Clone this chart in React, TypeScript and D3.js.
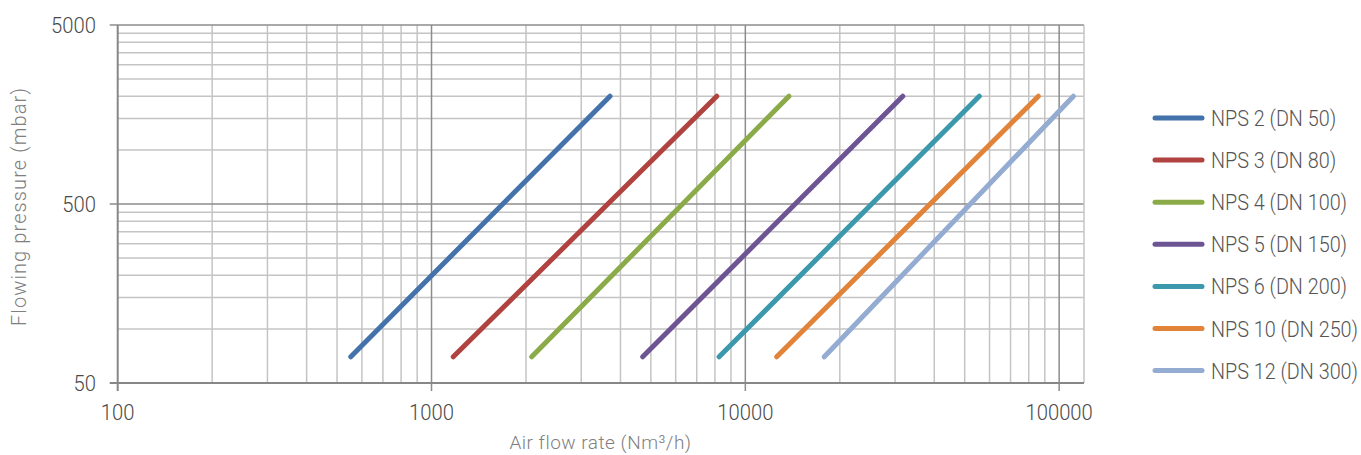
import React from 'react';
import * as d3 from 'd3';

const seriesNames = [
  'NPS 2 (DN 50)',
  'NPS 3 (DN 80)',
  'NPS 4 (DN 100)',
  'NPS 5 (DN 150)',
  'NPS 6 (DN 200)',
  'NPS 10 (DN 250)',
  'NPS 12 (DN 300)',
];
const colors = ['#4472aa', '#b0433f', '#8aab48', '#6d5493', '#3c99ad', '#e2833a', '#94abd2'];

// flow rate (Nm3/h) at low and high pressure end
const flowLow = [553, 1173, 2086, 4710, 8250, 12590, 17850];
const flowHigh = [3705, 8110, 13770, 31750, 55660, 85850, 111000];
const pressure = [70, 2000];

const xTicks = [100, 1000, 10000, 100000];
const yTicks = [50, 500, 5000];

const W = 1361;
const H = 455;
const m = { left: 117.7, top: 25, right: 1084, bottom: 383 };

export default function App() {
  const x = d3.scaleLog().domain([100, 120000]).range([m.left, m.right]);
  const y = d3.scaleLog().domain([50, 5000]).range([m.bottom, m.top]);

  const xMinor: number[] = [];
  [100, 1000, 10000].forEach(b => {
    for (let k = 2; k <= 9; k++) xMinor.push(b * k);
  });
  const yMinor: number[] = [];
  [50, 500].forEach(b => {
    for (let k = 2; k <= 9; k++) yMinor.push(b * k);
  });

  const line = d3
    .line<[number, number]>()
    .x(d => x(d[0]))
    .y(d => y(d[1]));

  const font = 'Roboto, "DejaVu Sans", sans-serif';

  return (
    <svg width={W} height={H} style={{ position: 'absolute', left: 0, top: 0 }} fontFamily={font}>
      <rect width={W} height={H} fill="#fff" />
      {/* minor grid */}
      {xMinor.map(v => (
        <line key={'xm' + v} x1={x(v)} x2={x(v)} y1={m.top} y2={m.bottom} stroke="#c4c4c4" strokeWidth={1.5} />
      ))}
      {yMinor.map(v => (
        <line key={'ym' + v} x1={m.left} x2={m.right} y1={y(v)} y2={y(v)} stroke="#c4c4c4" strokeWidth={1.5} />
      ))}
      {/* major grid */}
      {xTicks.slice(1).map(v => (
        <line key={'xM' + v} x1={x(v)} x2={x(v)} y1={m.top} y2={m.bottom + 8} stroke="#8c8c8c" strokeWidth={1.5} />
      ))}
      {yTicks.slice(1).map(v => (
        <line key={'yM' + v} x1={m.left - 8} x2={m.right} y1={y(v)} y2={y(v)} stroke="#8c8c8c" strokeWidth={1.5} />
      ))}
      <line x1={m.right} x2={m.right} y1={m.top} y2={m.bottom} stroke="#c4c4c4" strokeWidth={1.5} />
      {/* axes */}
      <line x1={m.left} x2={m.left} y1={m.top} y2={m.bottom + 8} stroke="#878787" strokeWidth={2} />
      <line x1={m.left - 8} x2={m.right} y1={m.bottom} y2={m.bottom} stroke="#878787" strokeWidth={2} />
      {/* tick labels */}
      {xTicks.map(v => (
        <text
          key={'xt' + v}
          transform={`translate(${x(v)},420) scale(0.92,1)`}
          textAnchor="middle"
          fontSize={22}
          fontWeight={300}
          fill="#4a4a4a"
        >
          {v}
        </text>
      ))}
      {yTicks.map(v => (
        <text
          key={'yt' + v}
          transform={`translate(96,${y(v) + 7.8}) scale(0.92,1)`}
          textAnchor="end"
          fontSize={22}
          fontWeight={300}
          fill="#4a4a4a"
        >
          {v}
        </text>
      ))}
      <text x={600.5} y={449} textAnchor="middle" fontSize={19} fontWeight={300} letterSpacing={0.5} fill="#808080">
        Air flow rate (Nm³/h)
      </text>
      <text
        transform={`translate(26,206.5) rotate(-90)`}
        textAnchor="middle"
        fontSize={20}
        fontWeight={300}
        letterSpacing={1.1}
        fill="#808080"
      >
        Flowing pressure (mbar)
      </text>
      {/* series */}
      {seriesNames.map((s, i) => (
        <path
          key={s}
          d={line([
            [flowLow[i], pressure[0]],
            [flowHigh[i], pressure[1]],
          ]) || ''}
          fill="none"
          stroke={colors[i]}
          strokeWidth={5}
          strokeLinecap="round"
        />
      ))}
      {/* legend */}
      {seriesNames.map((s, i) => (
        <g key={'lg' + s} transform={`translate(1155,${118 + i * 42.1})`}>
          <line x1={0} x2={47} y1={0} y2={0} stroke={colors[i]} strokeWidth={5} strokeLinecap="round" />
          <text transform="translate(56,8) scale(0.9,1)" fontSize={22} fontWeight={300} fill="#555">
            {s}
          </text>
        </g>
      ))}
    </svg>
  );
}
